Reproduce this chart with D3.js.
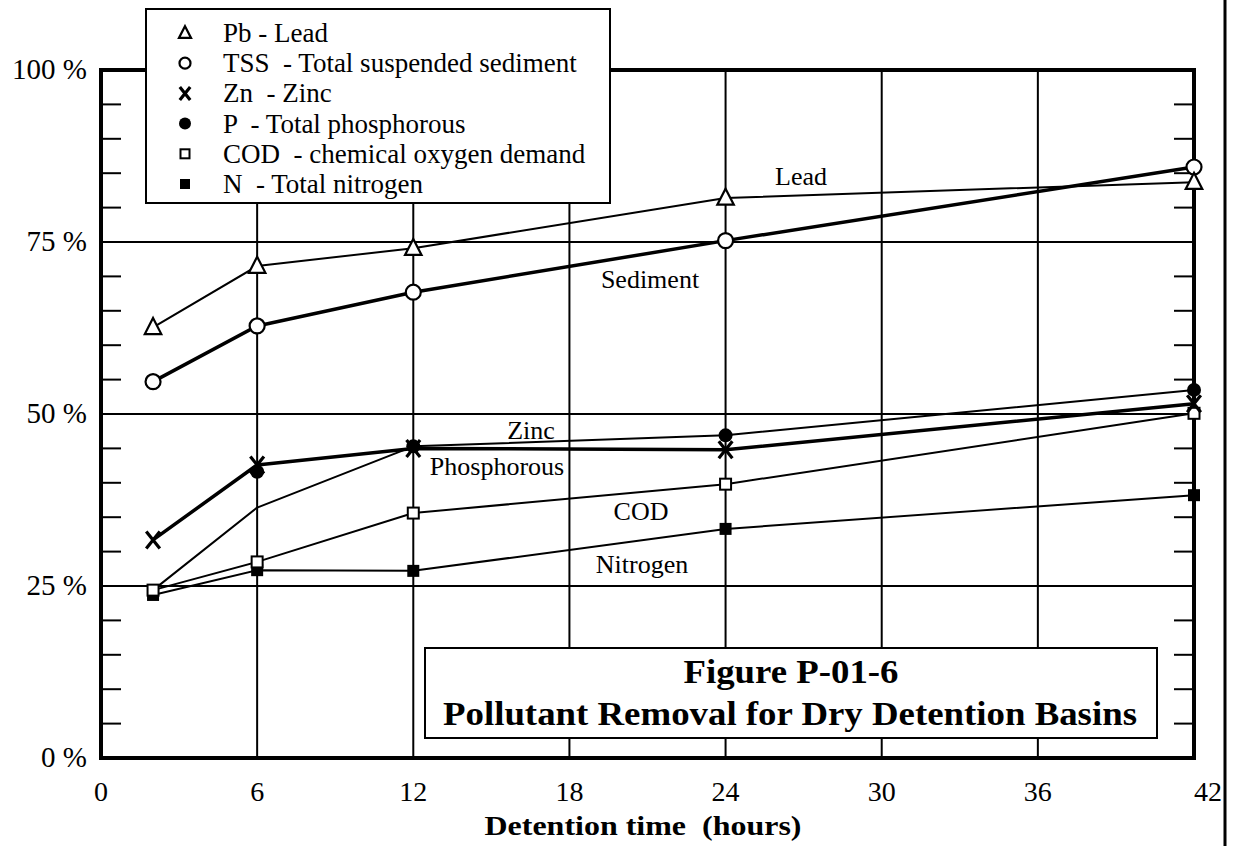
<!DOCTYPE html>
<html>
<head>
<meta charset="utf-8">
<title>Pollutant Removal for Dry Detention Basins</title>
<script src="https://d3js.org/d3.v7.min.js"></script>
<style>
  body { margin: 0; background: #fff; }
</style>
</head>
<body>
<svg width="1237" height="846"></svg>
<script>
// detention time (hours) where samples were taken
var hours = [2, 6, 12, 24, 42];

// removal percentages
var lead     = [62.6, 71.5, 74.1, 81.4, 83.7];
var sediment = [54.7, 62.8, 67.7, 75.2, 85.9];
var zinc     = [31.7, 42.6, 45.0, 44.8, 51.5];
var phosLine = [24.4, 36.4, 45.3, 46.9, 53.5];
var cod      = [24.4, 28.5, 35.6, 39.8, 50.1];
var nitrogen = [23.7, 27.3, 27.2, 33.3, 38.2];

// phosphorous markers are not on its own line at 6 h in the original
var phosMarkHours = [6, 12, 24, 42];
var phosMarks     = [41.6, 45.3, 46.9, 53.5];

var xTicks = [0, 6, 12, 18, 24, 30, 36, 42];
var yLabels = [0, 25, 50, 75, 100];

var legendSymbols = ["triangle", "circle", "cross", "dot", "square", "filledSquare"];
var legendLabels = [
  "Pb - Lead",
  "TSS  - Total suspended sediment",
  "Zn  - Zinc",
  "P  - Total phosphorous",
  "COD  - chemical oxygen demand",
  "N  - Total nitrogen"
];

var seriesNames = ["Lead", "Sediment", "Zinc", "Phosphorous", "COD", "Nitrogen"];

var FONT = "'Liberation Serif', 'Times New Roman', Times, serif";

var svg = d3.select("svg")
  .attr("font-family", FONT)
  .style("font-family", FONT);

var x = d3.scaleLinear().domain([0, 42]).range([101, 1194]);
var y = d3.scaleLinear().domain([0, 100]).range([758, 70]);

// grid lines
var grid = svg.append("g").attr("stroke", "#000").attr("stroke-width", 2);
[6, 12, 18, 24, 30, 36].forEach(function(h) {
  grid.append("line").attr("x1", x(h)).attr("x2", x(h)).attr("y1", y(0)).attr("y2", y(100));
});
[25, 50, 75].forEach(function(v) {
  grid.append("line").attr("x1", x(0)).attr("x2", x(42)).attr("y1", y(v)).attr("y2", y(v));
});

// minor ticks on both sides, every 5 %
var minor = d3.range(5, 100, 5).filter(function(v) { return v % 25 !== 0; });
var ticks = svg.append("g").attr("stroke", "#000").attr("stroke-width", 2);
minor.forEach(function(v) {
  ticks.append("line").attr("x1", x(0)).attr("x2", x(0) + 20).attr("y1", y(v)).attr("y2", y(v));
  ticks.append("line").attr("x1", x(42) - 20).attr("x2", x(42)).attr("y1", y(v)).attr("y2", y(v));
});

// plot frame
svg.append("rect")
  .attr("x", x(0)).attr("y", y(100))
  .attr("width", x(42) - x(0)).attr("height", y(0) - y(100))
  .attr("fill", "none").attr("stroke", "#000").attr("stroke-width", 4);

// page edge line on the right
svg.append("line").attr("x1", 1225).attr("x2", 1225).attr("y1", 0).attr("y2", 846)
  .attr("stroke", "#000").attr("stroke-width", 3);

function txt(g) {
  return g.append("text").attr("font-family", FONT).style("font-family", FONT)
    .attr("fill", "#000").style("white-space", "pre");
}

// axis labels
yLabels.forEach(function(d) {
  txt(svg).attr("x", 87).attr("y", y(d) + 9)
    .attr("text-anchor", "end")
    .style("font-size", "29px")
    .text(d + " %");
});

xTicks.forEach(function(d) {
  txt(svg).attr("x", x(d) + (d === 42 ? 14 : 0)).attr("y", 801)
    .attr("text-anchor", "middle")
    .style("font-size", "28px")
    .text(d);
});

txt(svg)
  .attr("x", 643).attr("y", 835)
  .attr("text-anchor", "middle")
  .attr("textLength", 317).attr("lengthAdjust", "spacingAndGlyphs")
  .style("font-size", "27px").style("font-weight", "bold")
  .text("Detention time  (hours)");

// series lines
var line = d3.line()
  .x(function(d) { return x(d[0]); })
  .y(function(d) { return y(d[1]); });

function pts(vals) { return hours.map(function(h, i) { return [h, vals[i]]; }); }

var seriesLines = [
  { vals: nitrogen, w: 2 },
  { vals: cod, w: 2 },
  { vals: phosLine, w: 2 },
  { vals: lead, w: 2 },
  { vals: zinc, w: 3.5 },
  { vals: sediment, w: 3.5 }
];
svg.append("g").selectAll("path").data(seriesLines).join("path")
  .attr("d", function(d) { return line(pts(d.vals)); })
  .attr("fill", "none")
  .attr("stroke", "#000")
  .attr("stroke-width", function(d) { return d.w; })
  .attr("stroke-linejoin", "round");

// marker drawing
function drawSymbol(g, kind, cx, cy, s) {
  if (kind === "triangle") {
    g.append("path")
      .attr("d", "M" + cx + "," + (cy - s * 0.62) + "L" + (cx + s * 0.55) + "," + (cy + s * 0.45) +
        "L" + (cx - s * 0.55) + "," + (cy + s * 0.45) + "Z")
      .attr("fill", "#fff").attr("stroke", "#000").attr("stroke-width", 2.2);
  } else if (kind === "circle") {
    g.append("circle").attr("cx", cx).attr("cy", cy).attr("r", s / 2)
      .attr("fill", "#fff").attr("stroke", "#000").attr("stroke-width", 2.2);
  } else if (kind === "dot") {
    g.append("circle").attr("cx", cx).attr("cy", cy).attr("r", s / 2).attr("fill", "#000");
  } else if (kind === "cross") {
    var h = s / 2;
    g.append("path")
      .attr("d", "M" + (cx - h * 0.8) + "," + (cy + h) + "L" + (cx + h * 0.8) + "," + (cy - h) +
        "M" + (cx - h * 0.8) + "," + (cy - h) + "L" + (cx + h * 0.8) + "," + (cy + h))
      .attr("stroke", "#000").attr("stroke-width", 3.2).attr("fill", "none");
  } else if (kind === "square") {
    g.append("rect").attr("x", cx - s / 2).attr("y", cy - s / 2).attr("width", s).attr("height", s)
      .attr("fill", "#fff").attr("stroke", "#000").attr("stroke-width", 2);
  } else if (kind === "filledSquare") {
    g.append("rect").attr("x", cx - s / 2).attr("y", cy - s / 2).attr("width", s).attr("height", s)
      .attr("fill", "#000");
  }
}

var marks = svg.append("g");
hours.forEach(function(h, i) { drawSymbol(marks, "filledSquare", x(h), y(nitrogen[i]), 12); });
hours.forEach(function(h, i) { drawSymbol(marks, "square", x(h), y(cod[i]), 11); });
phosMarkHours.forEach(function(h, i) { drawSymbol(marks, "dot", x(h), y(phosMarks[i]), 14); });
hours.forEach(function(h, i) { drawSymbol(marks, "cross", x(h), y(zinc[i]), 17); });
hours.forEach(function(h, i) { drawSymbol(marks, "circle", x(h), y(sediment[i]), 15); });
hours.forEach(function(h, i) { drawSymbol(marks, "triangle", x(h), y(lead[i]), 15); });

// series name labels next to the lines
var nameX = [801, 650, 531, 497, 641, 642];
var nameY = [185, 288, 439, 475, 520, 573];
seriesNames.forEach(function(d, i) {
  txt(svg).attr("x", nameX[i]).attr("y", nameY[i])
    .attr("text-anchor", "middle")
    .style("font-size", "26px")
    .text(d);
});

// legend box
var legend = svg.append("g");
legend.append("rect")
  .attr("x", 146).attr("y", 9).attr("width", 464).attr("height", 194)
  .attr("fill", "#fff").attr("stroke", "#000").attr("stroke-width", 2);
var legendSize = [11, 11, 13, 12, 9, 10];
legendLabels.forEach(function(lbl, i) {
  var base = 42 + i * 30.2;
  drawSymbol(legend, legendSymbols[i], 185, base - 9, legendSize[i]);
  txt(legend)
    .attr("x", 223).attr("y", base)
    .style("font-size", "27px")
    .text(lbl);
});

// figure title box
var tbox = svg.append("g");
tbox.append("rect")
  .attr("x", 425).attr("y", 648).attr("width", 732).attr("height", 90)
  .attr("fill", "#fff").attr("stroke", "#000").attr("stroke-width", 2);
txt(tbox)
  .attr("x", 791).attr("y", 683).attr("text-anchor", "middle")
  .attr("textLength", 215).attr("lengthAdjust", "spacingAndGlyphs")
  .style("font-size", "33px").style("font-weight", "bold")
  .text("Figure P-01-6");
txt(tbox)
  .attr("x", 790).attr("y", 725).attr("text-anchor", "middle")
  .attr("textLength", 694).attr("lengthAdjust", "spacingAndGlyphs")
  .style("font-size", "33px").style("font-weight", "bold")
  .text("Pollutant Removal for Dry Detention Basins");
</script>
</body>
</html>
